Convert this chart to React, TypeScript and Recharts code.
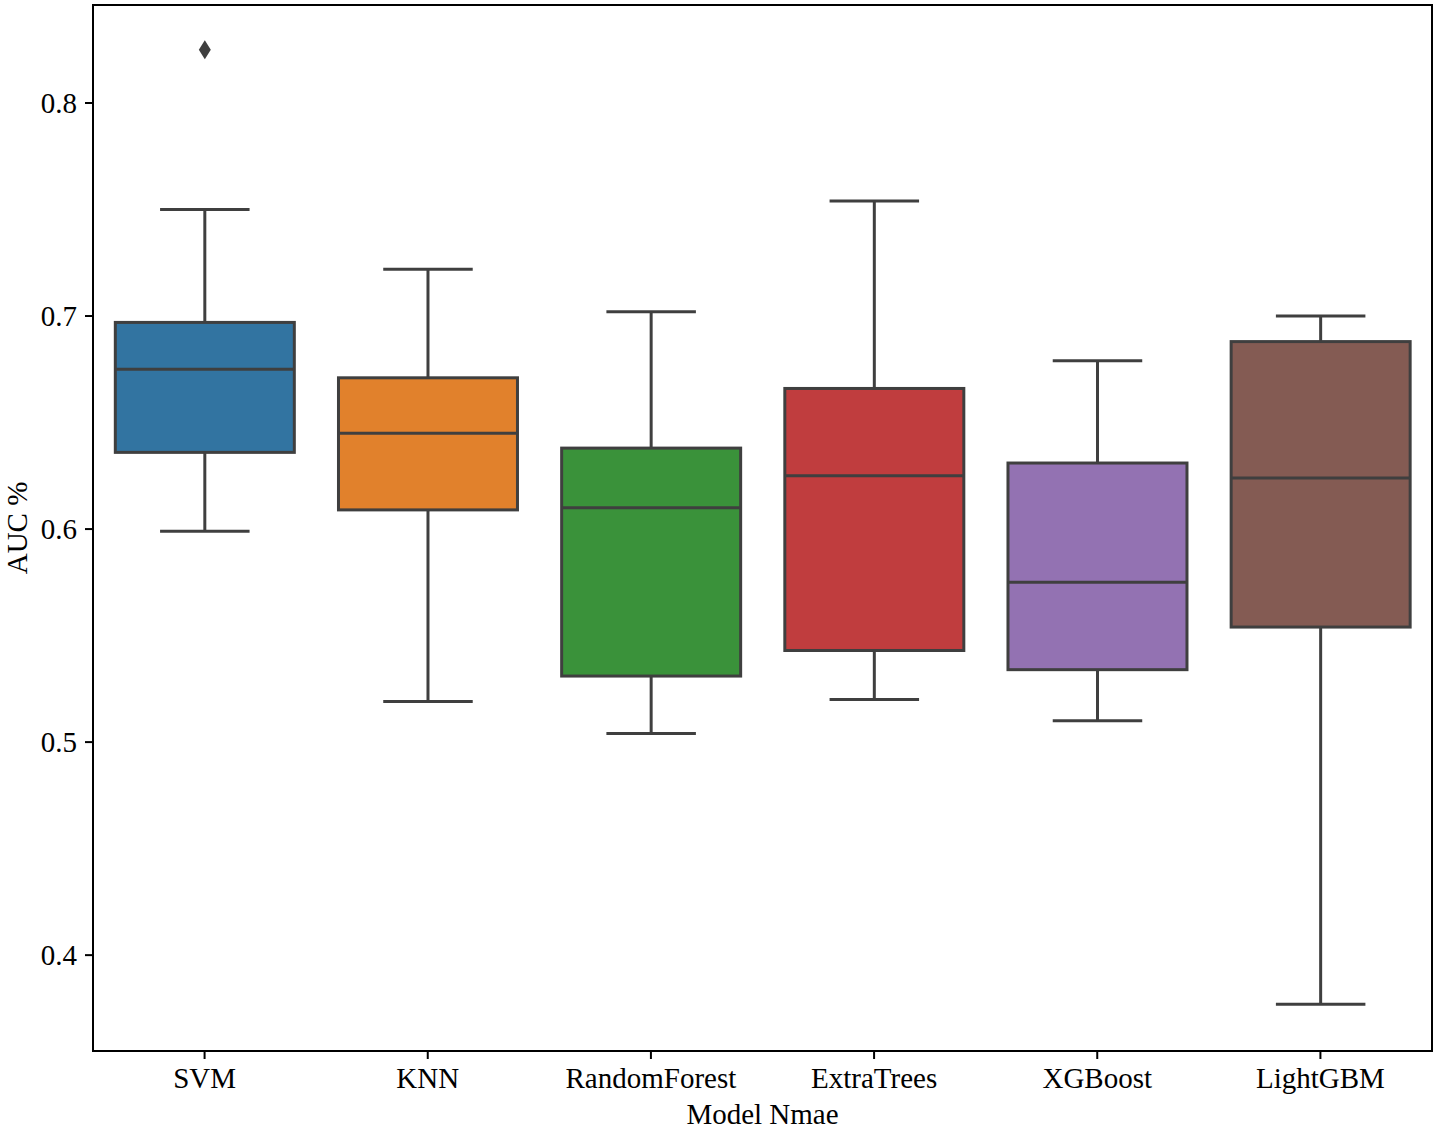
import React from 'react';
import { ComposedChart, Bar, XAxis, YAxis, ReferenceArea } from 'recharts';

// box plot stats
const models = ['SVM', 'KNN', 'RandomForest', 'ExtraTrees', 'XGBoost', 'LightGBM'];
const whiskerLow = [0.599, 0.519, 0.504, 0.520, 0.510, 0.377];
const q1 = [0.636, 0.609, 0.531, 0.543, 0.534, 0.554];
const median = [0.675, 0.645, 0.610, 0.625, 0.575, 0.624];
const q3 = [0.697, 0.671, 0.638, 0.666, 0.631, 0.688];
const whiskerHigh = [0.750, 0.722, 0.702, 0.754, 0.679, 0.700];
const outliers: number[][] = [[0.825], [], [], [], [], []];
const colors = ['#3274a1', '#e1812c', '#3a923a', '#c03d3e', '#9372b2', '#845b53'];
const yTicks = [0.4, 0.5, 0.6, 0.7, 0.8];
const yDomain = [0.355, 0.846];

const data = models.map((name, i) => ({
  name,
  range: [whiskerLow[i], whiskerHigh[i]],
  low: whiskerLow[i],
  q1: q1[i],
  median: median[i],
  q3: q3[i],
  high: whiskerHigh[i],
  outliers: outliers[i],
  color: colors[i],
}));

const LINE = '#3f3f3f';
const FONT = '"Liberation Serif", "Times New Roman", serif';

const BoxShape = (props: any) => {
  const { x, y, width, height, payload } = props;
  if (!payload || height == null) return null;
  const top = Math.min(y, y + height);
  const bottom = Math.max(y, y + height);
  const ppu = (bottom - top) / (payload.high - payload.low);
  const py = (v: number) => bottom - (v - payload.low) * ppu;
  const cx = x + width / 2;
  const capHalf = width / 4;
  return (
    <g>
      <line x1={cx} x2={cx} y1={py(payload.high)} y2={py(payload.q3)} stroke={LINE} strokeWidth={3} />
      <line x1={cx} x2={cx} y1={py(payload.q1)} y2={py(payload.low)} stroke={LINE} strokeWidth={3} />
      <line x1={cx - capHalf} x2={cx + capHalf} y1={py(payload.high)} y2={py(payload.high)} stroke={LINE} strokeWidth={3} />
      <line x1={cx - capHalf} x2={cx + capHalf} y1={py(payload.low)} y2={py(payload.low)} stroke={LINE} strokeWidth={3} />
      <rect
        x={x}
        y={py(payload.q3)}
        width={width}
        height={py(payload.q1) - py(payload.q3)}
        fill={payload.color}
        stroke={LINE}
        strokeWidth={3}
      />
      <line x1={x} x2={x + width} y1={py(payload.median)} y2={py(payload.median)} stroke={LINE} strokeWidth={3} />
      {payload.outliers.map((o: number, k: number) => {
        const oy = py(o);
        return (
          <polygon
            key={k}
            points={`${cx},${oy - 9.5} ${cx + 6},${oy} ${cx},${oy + 9.5} ${cx - 6},${oy}`}
            fill={LINE}
          />
        );
      })}
    </g>
  );
};

export default function App() {
  return (
    <div style={{ position: 'absolute', left: 0, top: 0, width: 1441, height: 1130, background: '#fff' }}>
      <ComposedChart
        width={1441}
        height={1130}
        data={data}
        margin={{ top: 5, right: 9, bottom: 0, left: 0 }}
        barCategoryGap="10%"
      >
        <XAxis
          dataKey="name"
          height={79}
          axisLine={{ stroke: '#000', strokeWidth: 2 }}
          tickLine={{ stroke: '#000', strokeWidth: 2 }}
          tickSize={8}
          tickMargin={8}
          tick={{ fill: '#000', fontSize: 29, fontFamily: FONT }}
          label={{ value: 'Model Nmae', position: 'insideBottom', offset: 6, fill: '#000', fontSize: 29, fontFamily: FONT }}
        />
        <YAxis
          type="number"
          domain={yDomain}
          allowDataOverflow
          ticks={yTicks}
          tickFormatter={(v: number) => v.toFixed(1)}
          width={93}
          axisLine={{ stroke: '#000', strokeWidth: 2 }}
          tickLine={{ stroke: '#000', strokeWidth: 2 }}
          tickSize={8}
          tickMargin={8}
          tick={{ fill: '#000', fontSize: 29, fontFamily: FONT }}
          label={{ value: 'AUC %', angle: -90, position: 'insideLeft', offset: 17, fill: '#000', fontSize: 29, fontFamily: FONT, style: { textAnchor: 'middle' } }}
        />
        <Bar dataKey="range" shape={BoxShape} isAnimationActive={false} />
        {/* frame around the plot area */}
        <ReferenceArea
          y1={yDomain[0]}
          y2={yDomain[1]}
          fill="none"
          fillOpacity={0}
          stroke="#000"
          strokeWidth={2}
          ifOverflow="visible"
        />
      </ComposedChart>
    </div>
  );
}
